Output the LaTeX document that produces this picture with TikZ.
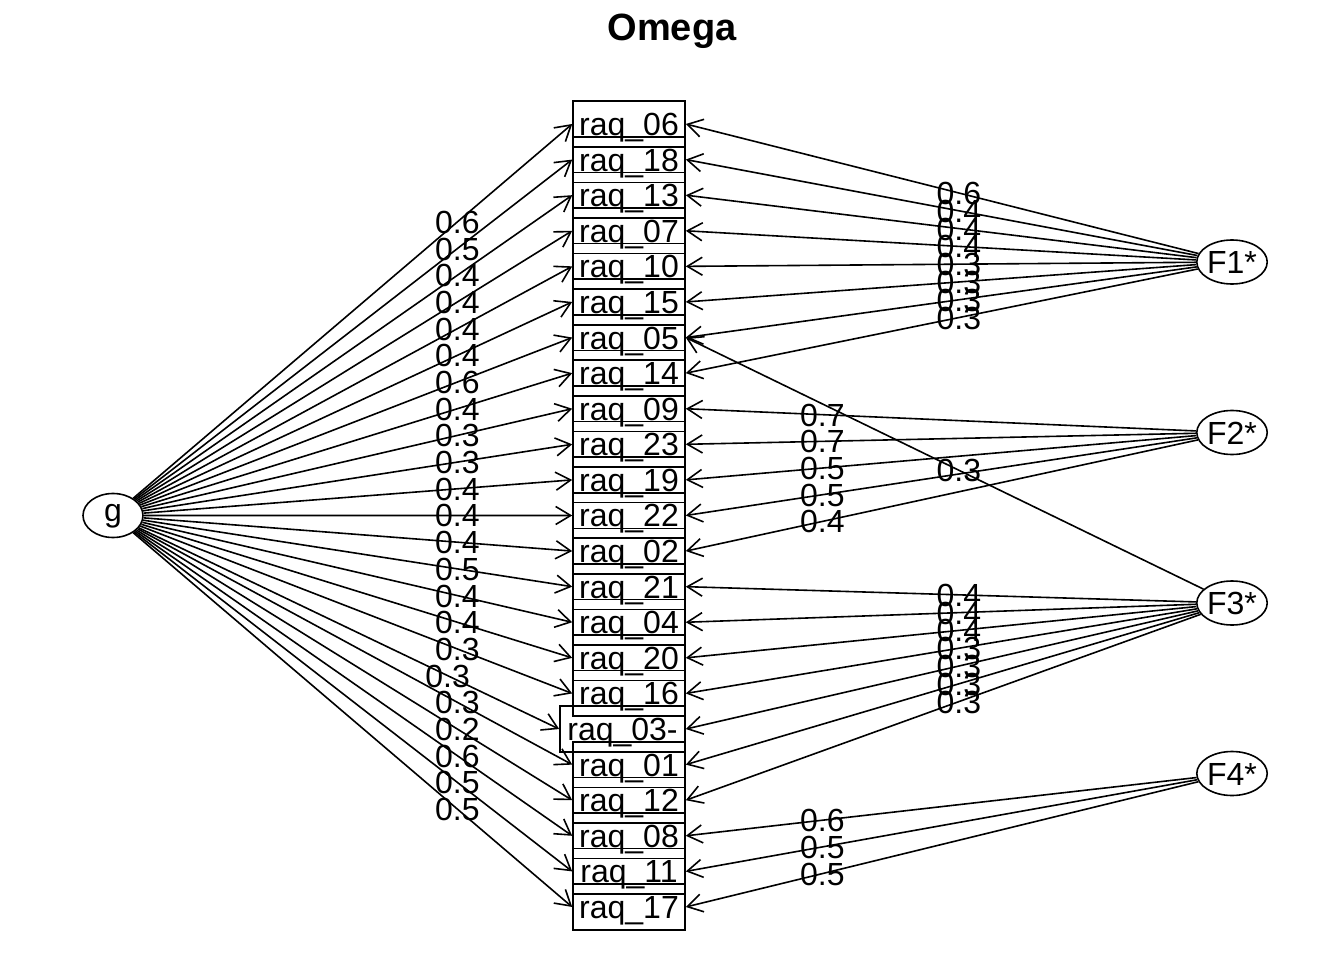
\documentclass[tikz,border=0pt]{standalone}
\usepackage{fontspec}
\setmainfont{Liberation Sans}
\usetikzlibrary{arrows.meta,calc,shapes.geometric}
\begin{document}
\begin{tikzpicture}[x=1pt,y=-1pt,
  every node/.style={font=\fontsize{32}{38}\selectfont},
  item/.style={draw,line width=1.6pt,rectangle,inner sep=0pt,minimum height=45.5pt,text height=23pt,text depth=0pt},
  factor/.style={draw,line width=1.6pt,ellipse,inner sep=0pt,minimum height=44pt,text height=23pt,text depth=0pt},
  load/.style={-{Straight Barb[length=15pt,width=18pt]},line width=1.6pt},
  coef/.style={inner sep=0pt,text height=23pt,text depth=0pt}]
\useasboundingbox (0,0) rectangle (1344,960);

% title
\node[font=\fontsize{38}{44}\selectfont\bfseries] (title) at (672,31) {Omega};

% observed variables, stacked
\foreach \lab/\xc/\w [count=\i from 0] in
  {06/629/112,18/629/112,13/629/112,07/629/112,10/629/112,15/629/112,
   05/629/112,14/629/112,09/629/112,23/629/112,19/629/112,22/629/112,
   02/629/112,21/629/112,04/629/112,20/629/112,16/629/112,03-/622.5/125,
   01/629/112,12/629/112,08/629/112,11/629/112,17/629/112}
  \node[item,minimum width=\w pt] (v\i) at (\xc,124+35.59*\i) {raq\_\lab};

% latent factors
\node[factor,minimum width=60pt,text height=12pt] (g) at (113,515.5) {g};
\node[factor,minimum width=66pt] (F1) at (1232,262) {F1*};
\node[factor,minimum width=66pt] (F2) at (1232,432.5) {F2*};
\node[factor,minimum width=66pt] (F3) at (1232,603) {F3*};
\node[factor,minimum width=66pt] (F4) at (1232,773.5) {F4*};

% general factor loadings
\foreach \i/\c in {0/0.6,1/0.5,2/0.4,3/0.4,4/0.4,5/0.4,6/0.6,7/0.4,8/0.3,
  9/0.3,10/0.4,11/0.4,12/0.4,13/0.5,14/0.4,15/0.4,16/0.3,17/0.3,18/0.3,
  19/0.2,20/0.6,21/0.5,22/0.5}{
  \draw[load] (g) -- (v\i.west);
  \node[coef] (gl\i) at ($(g.center)!0.75!(v\i.west)$) {\c};
}

% group factor loadings
\foreach \i/\c in {0/0.6,1/0.4,2/0.4,3/0.4,4/0.3,5/0.3,6/0.3,7/0.3}{
  \draw[load] (F1) -- (v\i.east);
  \node[coef] (fa\i) at ($(F1.center)!0.5!(v\i.east)$) {\c};
}
\foreach \i/\c in {8/0.7,9/0.7,10/0.5,11/0.5,12/0.4}{
  \draw[load] (F2) -- (v\i.east);
  \node[coef] (fb\i) at ($(F2.center)!0.75!(v\i.east)$) {\c};
}
\foreach \i/\c in {13/0.4,14/0.4,15/0.4,16/0.3,17/0.3,18/0.3,19/0.3,6/0.3}{
  \draw[load] (F3) -- (v\i.east);
  \node[coef] (fc\i) at ($(F3.center)!0.5!(v\i.east)$) {\c};
}
\foreach \i/\c in {20/0.6,21/0.5,22/0.5}{
  \draw[load] (F4) -- (v\i.east);
  \node[coef] (fd\i) at ($(F4.center)!0.75!(v\i.east)$) {\c};
}
\end{tikzpicture}
\end{document}
